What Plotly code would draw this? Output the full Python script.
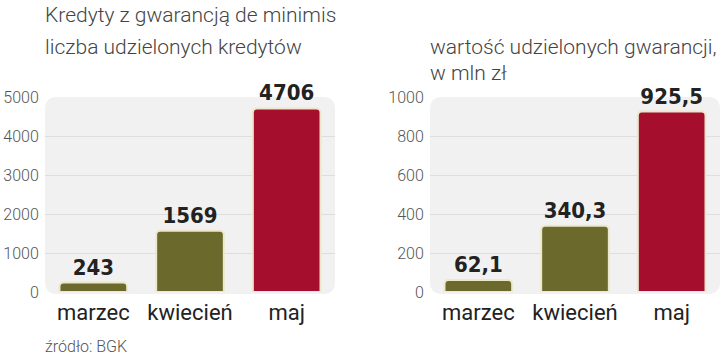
import plotly.graph_objects as go

categories = ["marzec", "kwiecień", "maj"]
counts = [243, 1569, 4706]
count_labels = ["243", "1569", "4706"]
values = [62.1, 340.3, 925.5]
value_labels = ["62,1", "340,3", "925,5"]
left_ticks = [0, 1000, 2000, 3000, 4000, 5000]
right_ticks = [0, 200, 400, 600, 800, 1000]

OLIVE = "#6b6a2c"
RED = "#a50f2d"
OUTLINE = "#ece8cc"
colors = [OLIVE, OLIVE, RED]

W, H = 720, 358
L_DOM = [45 / W, 335 / W]
R_DOM = [430 / W, 720 / W]
Y_DOM = [(H - 292) / H, (H - 97) / H]

valfont = dict(family="DejaVu Sans Condensed", size=22, color="#222", weight="bold")

fig = go.Figure()
fig.add_trace(go.Bar(
    x=categories, y=counts, text=count_labels, textposition="outside",
    cliponaxis=False, constraintext="none", textfont=valfont,
    marker=dict(color=colors, line=dict(color=OUTLINE, width=2), cornerradius=4),
    xaxis="x", yaxis="y", hoverinfo="skip"))
fig.add_trace(go.Bar(
    x=categories, y=values, text=value_labels, textposition="outside",
    cliponaxis=False, constraintext="none", textfont=valfont,
    marker=dict(color=colors, line=dict(color=OUTLINE, width=2), cornerradius=4),
    xaxis="x2", yaxis="y2", hoverinfo="skip"))

def rounded(x0, x1, y0, y1, r=12):
    rx, ry = r / W, r / H
    return (f"M {x0+rx},{y0} L {x1-rx},{y0} Q {x1},{y0} {x1},{y0+ry} "
            f"L {x1},{y1-ry} Q {x1},{y1} {x1-rx},{y1} L {x0+rx},{y1} "
            f"Q {x0},{y1} {x0},{y1-ry} L {x0},{y0+ry} Q {x0},{y0} {x0+rx},{y0} Z")

shapes = []
for dom in (L_DOM, R_DOM):
    shapes.append(dict(type="path", xref="paper", yref="paper", layer="below",
                       path=rounded(dom[0], dom[1], Y_DOM[0] - 2 / H, Y_DOM[1]),
                       fillcolor="#f1f1f1", line=dict(width=0)))

tickfont = dict(family="Roboto", size=16, color="#555", weight=300)
catfont = dict(family="Roboto", size=22, color="#222")
common_y = dict(showgrid=True, gridcolor="#dedede", gridwidth=1, zeroline=False,
                showline=False, ticks="outside", ticklen=2, tickcolor="rgba(0,0,0,0)",
                tickfont=tickfont, domain=Y_DOM, fixedrange=True, automargin=False)
common_x = dict(showgrid=False, zeroline=False, showline=False, tickfont=catfont,
                ticks="outside", ticklen=1, tickcolor="rgba(0,0,0,0)", fixedrange=True,
                automargin=False)

title_font = dict(family="Roboto", size=21, color="#444", weight=300)

fig.update_layout(
    width=W, height=H, margin=dict(l=0, r=0, t=0, b=0, pad=0, autoexpand=False),
    paper_bgcolor="white", plot_bgcolor="rgba(0,0,0,0)",
    showlegend=False, bargap=0.3, shapes=shapes,
    xaxis=dict(domain=L_DOM, anchor="y", **common_x),
    yaxis=dict(range=[0, 5000], tickvals=left_ticks, anchor="x", **common_y),
    xaxis2=dict(domain=R_DOM, anchor="y2", **common_x),
    yaxis2=dict(range=[0, 1000], tickvals=right_ticks, anchor="x2", **common_y),
    annotations=[
        dict(text="Kredyty z gwarancją de minimis", x=43 / W, y=1 - 15 / H, xref="paper", yref="paper",
             xanchor="left", yanchor="middle", showarrow=False, font=title_font),
        dict(text="liczba udzielonych kredytów", x=43 / W, y=1 - 47 / H, xref="paper", yref="paper",
             xanchor="left", yanchor="middle", showarrow=False, font=title_font),
        dict(text="wartość udzielonych gwarancji,", x=428 / W, y=1 - 47 / H, xref="paper", yref="paper",
             xanchor="left", yanchor="middle", showarrow=False, font=title_font),
        dict(text="w mln zł", x=428 / W, y=1 - 73 / H, xref="paper", yref="paper",
             xanchor="left", yanchor="middle", showarrow=False, font=title_font),
        dict(text="źródło: BGK", x=43 / W, y=1 - 346 / H, xref="paper", yref="paper",
             xanchor="left", yanchor="middle", showarrow=False,
             font=dict(family="Roboto", size=16, color="#555", weight=300)),
    ],
)

fig.write_html("out.html", config={"displayModeBar": False},
               post_script="document.body.style.margin='0';document.body.style.overflow='hidden';")
